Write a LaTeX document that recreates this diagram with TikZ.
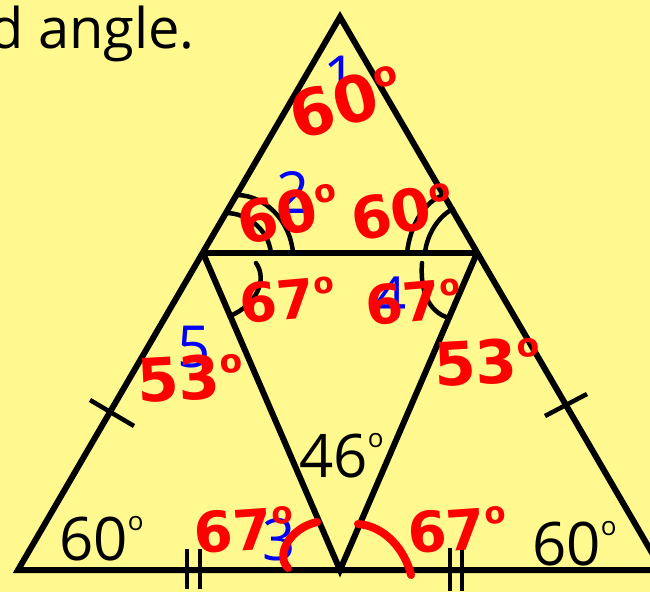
\documentclass[tikz,border=0pt]{standalone}
\usepackage{fontspec}
\setmainfont{Open Sans}
\newfontfamily\handfont{DejaVu Sans}
\usepackage{tikz}
\usetikzlibrary{calc}
\definecolor{slideyellow}{HTML}{FFF98F}
\definecolor{penred}{HTML}{FF0000}
\definecolor{penblue}{HTML}{0000FF}
\newcommand\printdeg{\raisebox{.5em}{\fontsize{26}{26}\selectfont o}}
\newcommand\pendeg{\raisebox{.42em}{\fontsize{.55em}{.55em}\selectfont o}}

\begin{document}
\begin{tikzpicture}[x=1pt, y=-1pt,
    edge/.style={line width=6pt, line join=miter},
    anglemark/.style={line width=4.5pt, line cap=round},
    tickmark/.style={line width=4.5pt},
    penarc/.style={draw=penred, line width=8pt, line cap=round},
    printlbl/.style={inner sep=0pt, font=\fontsize{60}{60}\selectfont},
    pennum/.style={inner sep=0pt, text=penblue, font=\fontsize{58}{58}\selectfont},
    penlbl/.style={inner sep=0pt, text=penred, font=\handfont\bfseries\fontsize{#1}{#1}\selectfont},
    penlbl/.default=54
]
\useasboundingbox (0,0) rectangle (650,592);
\fill[slideyellow] (0,0) rectangle (650,592);

% Corners of the big triangle and the inner kite
\coordinate (apex) at (340,17);
\coordinate (bl) at (18,570);
\coordinate (br) at (662,570);
\coordinate (pl) at (203,253);
\coordinate (pr) at (477,253);
\coordinate (vee) at (340,570);

\draw[edge] (bl) -- (apex) -- (br) -- cycle;
\draw[edge] (pl) -- (pr);
\draw[edge] (pl) -- (vee) -- (pr);

\node[printlbl, font=\fontsize{56}{56}\selectfont, anchor=base east] (title) at (195,48) {d angle.};

% Printed angle arcs and equal-side ticks
\draw[anglemark] (238,195) .. controls (265,196) and (290,220) .. (293,253);
\draw[anglemark] (226,213) .. controls (246,213) and (268,228) .. (271,253);
\draw[anglemark] (407,253) .. controls (410,226) and (424,201) .. (444,195);
\draw[anglemark] (425,253) .. controls (427,233) and (440,215) .. (453,209);
\draw[anglemark] (256,263) .. controls (268,280) and (256,305) .. (230,316);
\draw[anglemark] (422,263) .. controls (420,290) and (428,312) .. (449,318);

\draw[tickmark] (90,400) -- (134,426);
\draw[tickmark] (545,416) -- (587,394);
\draw[tickmark] (187,549) -- (187,589);
\draw[tickmark] (200,549) -- (200,589);
\draw[tickmark] (450,548) -- (450,591);
\draw[tickmark] (462,548) -- (462,591);

\node[printlbl, anchor=base west] (given46) at (299,477) {46\printdeg};
\node[printlbl, anchor=base west] (givenleft) at (59,560) {60\printdeg};
\node[printlbl, anchor=base west] (givenright) at (532,565) {60\printdeg};

% Blue step numbers
\node[pennum] (step1) at (340,77) {1};
\node[pennum] (step2) at (293,192) {2};
\node[pennum] (step3) at (279,540) {3};
\node[pennum] (step4) at (390,298) {4};
\node[pennum] (step5) at (194,347) {5};

% Red working
\draw[penarc] (317,522) .. controls (290,528) and (275,555) .. (288,568);
\draw[penarc] (358,524) .. controls (385,526) and (405,550) .. (411,575);

\node[penlbl=64, rotate=16] (ans1) at (346,102) {60\pendeg};
\node[penlbl=58, rotate=12] (ans2l) at (288,214) {60\pendeg};
\node[penlbl=58, rotate=10] (ans2r) at (402,212) {60\pendeg};
\node[penlbl, rotate=5] (ans4l) at (287,300) {67\pendeg};
\node[penlbl, rotate=5] (ans4r) at (413,302) {67\pendeg};
\node[penlbl=60, rotate=3] (ans5l) at (190,378) {53\pendeg};
\node[penlbl=60, rotate=3] (ans5r) at (487,362) {53\pendeg};
\node[penlbl=56, rotate=4] (ans3l) at (244,530) {67\pendeg};
\node[penlbl=56, rotate=4] (ans3r) at (457,530) {67\pendeg};
\end{tikzpicture}
\end{document}
